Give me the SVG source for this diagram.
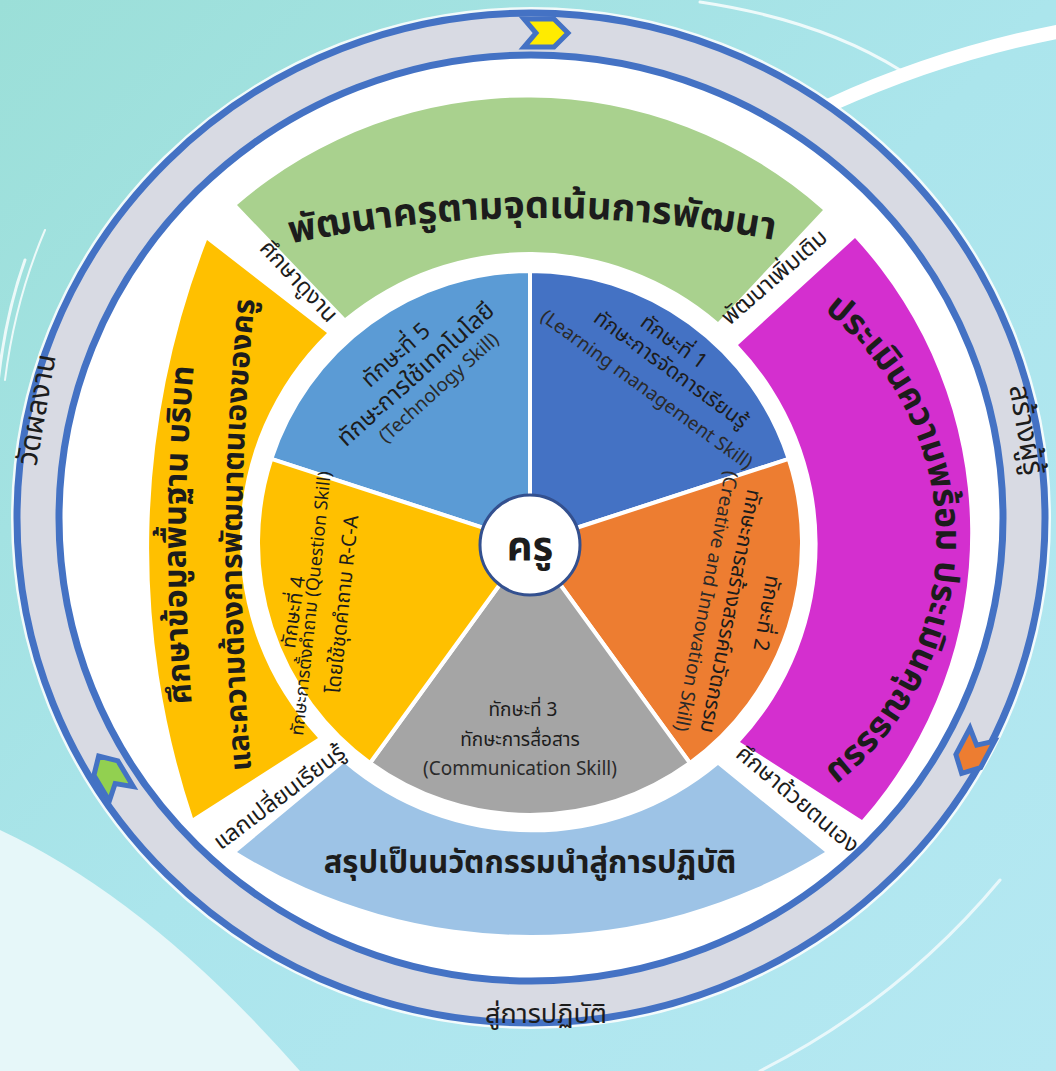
<svg xmlns="http://www.w3.org/2000/svg" width="1056" height="1071" viewBox="0 0 1056 1071">
<defs>
<linearGradient id="bg" x1="0" y1="0" x2="1" y2="1">
<stop offset="0" stop-color="#9BDFD8"/>
<stop offset="0.5" stop-color="#ABE5EC"/>
<stop offset="1" stop-color="#B5E8F2"/>
</linearGradient>
<path id="gArc" d="M 280,246 Q 530,192 785,242"/>
<path id="mArc" d="M 700,255 A 290 290 0 0 1 700,825"/>
<path id="y1Arc" d="M 198,770 Q 172,530 201,300"/>
<path id="y2Arc" d="M 254,800 Q 228,540 258,270"/>
<style>
.th{font-family:"Noto Sans Thai","Noto Sans Thai UI","Loma","Garuda","Tlwg Typo","Noto Sans",sans-serif;fill:#1c1c1c}
.big{font-weight:bold}
.sk{font-size:21px}
.en{font-size:19px;fill:#2a2a2a}
.lab{font-size:23px}
.slice{stroke:#fff;stroke-width:4}
.chev{stroke:#4472C4;stroke-width:5;stroke-linejoin:miter}
</style>
</defs>
<rect width="1056" height="1071" fill="url(#bg)"/>
<path d="M0,830 Q 150,900 300,1071 L0,1071 Z" fill="#E6F7F9"/>
<g fill="none" stroke="#fff" stroke-linecap="round">
<path d="M 830,105 Q 940,55 1056,32" stroke-width="14"/>
<path d="M 700,2 Q 820,20 900,70" stroke-width="3" opacity="0.8"/>
<path d="M 25,260 Q 0,330 -5,420" stroke-width="3" opacity="0.8"/>
<path d="M 45,230 Q 15,300 5,380" stroke-width="2" opacity="0.8"/>
<path d="M 760,1071 Q 900,1000 1000,880" stroke-width="3" opacity="0.7"/>
</g>
<ellipse cx="531" cy="518" rx="500" ry="491" fill="#fff" stroke="#fff" stroke-width="40" opacity="0.85"/>
<g id="ring">
<ellipse cx="531" cy="518" rx="493" ry="484" fill="#fff" stroke="#D8DAE3" stroke-width="42"/>
<ellipse cx="531" cy="518" rx="514" ry="505" fill="none" stroke="#4472C4" stroke-width="7"/>
<ellipse cx="531" cy="518" rx="472" ry="463" fill="none" stroke="#4472C4" stroke-width="7"/>
</g>
<g id="chevrons">
<path class="chev" fill="#FFEB00" d="M-22,-14 L8,-14 L22,0 L8,14 L-22,14 L-10,0 Z" transform="translate(546,33)"/>
<path class="chev" fill="#92D050" d="M-22,-14 L8,-14 L22,0 L8,14 L-22,14 L-10,0 Z" transform="translate(110,775) rotate(-121)"/>
<path class="chev" fill="#ED7D31" d="M-22,-14 L8,-14 L22,0 L8,14 L-22,14 L-10,0 Z" transform="translate(972,754) rotate(118)"/>
</g>
<g id="ring-labels" class="th">
<text transform="translate(38,410) rotate(-80)" text-anchor="middle" dominant-baseline="middle" font-size="29">วัดผลงาน</text>
<text transform="translate(1025,430) rotate(80)" text-anchor="middle" dominant-baseline="middle" font-size="29">สร้างผู้รู้</text>
<text x="546" y="1023" text-anchor="middle" font-size="27">สู่การปฏิบัติ</text>
</g>
<g id="band-green">
<path d="M 237,205 A 445 445 0 0 1 823,210 L 718,322 A 290 290 0 0 0 345,318 Z" fill="#A9D18E"/>
<text class="th big" font-size="38"><textPath href="#gArc" startOffset="50%" text-anchor="middle">พัฒนาครูตามจุดเน้นการพัฒนา</textPath></text>
</g>
<g id="band-magenta">
<path d="M 855,238 A 435 435 0 0 1 862,820 L 740,742 A 290 290 0 0 0 738,345 Z" fill="#D42FCF"/>
<text class="th big" font-size="35"><textPath href="#mArc" startOffset="50%" text-anchor="middle">ประเมินความพร้อม ประเมินคุณธรรม</textPath></text>
</g>
<g id="band-yellow">
<path d="M 193,818 A 850 850 0 0 1 207,240 L 327,333 A 290 290 0 0 0 318,738 Z" fill="#FFC000"/>
<text class="th big" font-size="32"><textPath href="#y1Arc" startOffset="50%" text-anchor="middle">ศึกษาข้อมูลพื้นฐาน บริบท</textPath></text>
<text class="th big" font-size="30"><textPath href="#y2Arc" startOffset="50%" text-anchor="middle">และความต้องการพัฒนาตนเองของครู</textPath></text>
</g>
<g id="band-lightblue">
<path d="M 237,852 A 562 562 0 0 0 825,852 L 718,765 A 290 290 0 0 1 344,763 Z" fill="#9DC3E6"/>
<text class="th big" x="530" y="873" text-anchor="middle" font-size="31">สรุปเป็นนวัตกรรมนำสู่การปฏิบัติ</text>
</g>
<g id="strip-labels" class="th lab">
<text transform="translate(298,282) rotate(47)" text-anchor="middle" dominant-baseline="middle">ศึกษาดูงาน</text>
<text transform="translate(775,278) rotate(-41)" text-anchor="middle" dominant-baseline="middle">พัฒนาเพิ่มเติม</text>
<text transform="translate(797,800) rotate(40)" text-anchor="middle" dominant-baseline="middle">ศึกษาด้วยตนเอง</text>
<text transform="translate(280,798) rotate(-37)" text-anchor="middle" dominant-baseline="middle">แลกเปลี่ยนเรียนรู้</text>
</g>
<g id="skill-1">
<path class="slice" d="M530,543 L530,271 A272,272 0 0 1 788.7,458.9 Z" fill="#4472C4"/>
<g class="th" transform="translate(667,375) rotate(36)">
<text class="sk" x="-14" y="-24" text-anchor="middle">ทักษะที่ 1</text>
<text class="sk" x="0" y="0" text-anchor="middle">ทักษะการจัดการเรียนรู้</text>
<text class="en" x="-8" y="30" text-anchor="middle">(Learning management Skill)</text>
</g>
</g>
<g id="skill-2">
<path class="slice" d="M530,543 L788.7,458.9 A272,272 0 0 1 689.9,763 Z" fill="#ED7D31"/>
<g class="th">
<text class="sk" transform="translate(760,612) rotate(100)" text-anchor="middle">ทักษะที่ 2</text>
<text class="sk" transform="translate(724,610) rotate(101)" text-anchor="middle">ทักษะการสร้างสรรค์นวัตกรรม</text>
<text class="en" transform="translate(700,600) rotate(101)" text-anchor="middle">(Creative and Innovation Skill)</text>
</g>
</g>
<g id="skill-3">
<path class="slice" d="M530,543 L689.9,763 A272,272 0 0 1 370.1,763 Z" fill="#A5A5A5"/>
<g class="th">
<text x="523" y="716" text-anchor="middle" font-size="19">ทักษะที่ 3</text>
<text x="520" y="746" text-anchor="middle" font-size="19">ทักษะการสื่อสาร</text>
<text class="en" x="520" y="775" text-anchor="middle" font-size="16">(Communication Skill)</text>
</g>
</g>
<g id="skill-5">
<path class="slice" d="M530,543 L271.3,458.9 A272,272 0 0 1 530,271 Z" fill="#5B9BD5"/>
<g class="th" transform="translate(421,380) rotate(-42)">
<text x="-2" y="-28" text-anchor="middle" font-size="23">ทักษะที่ 5</text>
<text x="0" y="0" text-anchor="middle" font-size="24">ทักษะการใช้เทคโนโลยี</text>
<text class="en" x="8" y="24" text-anchor="middle" font-size="18">(Technology Skill)</text>
</g>
</g>
<g id="skill-4">
<path class="slice" d="M530,543 L370.1,763 A272,272 0 0 1 271.3,458.9 Z" fill="#FFC000"/>
<g class="th">
<text transform="translate(300,613) rotate(-82)" text-anchor="middle" font-size="20">ทักษะที่ 4</text>
<text transform="translate(317,604) rotate(-84)" text-anchor="middle" font-size="18">ทักษะการตั้งคำถาม (Question Skill)</text>
<text transform="translate(349,605) rotate(-84)" text-anchor="middle" font-size="20">โดยใช้ชุดคำถาม R-C-A</text>
</g>
</g>
<g id="center">
<circle cx="530" cy="545" r="50" fill="#fff" stroke="#33508F" stroke-width="3"/>
<text class="th" x="530" y="560" text-anchor="middle" font-size="40" font-weight="bold">ครู</text>
</g>
</svg>
